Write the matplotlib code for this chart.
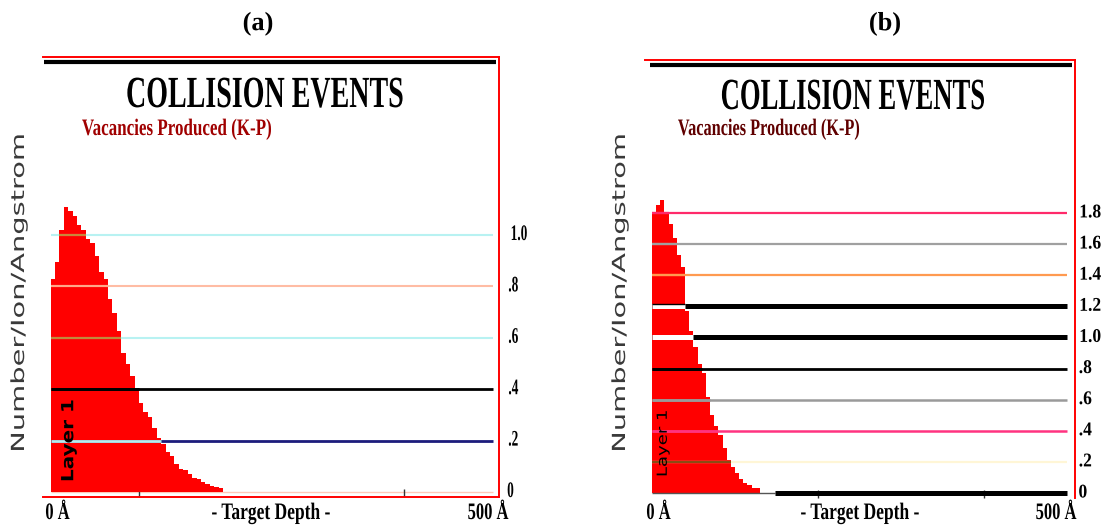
import numpy as np
import matplotlib
matplotlib.use("Agg")
import matplotlib.pyplot as plt
from matplotlib import patheffects
from matplotlib.transforms import Affine2D, blended_transform_factory

W, H = 1102, 526

# depth bins (Angstrom)
bin_width = 5
depth_max = 500

# vacancies / ion / Angstrom, one value per 5 A bin
vac_a = np.array([0.83, 0.895, 1.02, 1.11, 1.095, 1.072, 1.04, 1.02, 0.985, 0.967,
                  0.92, 0.857, 0.83, 0.75, 0.695, 0.625, 0.54, 0.497, 0.45, 0.40,
                  0.345, 0.31, 0.29, 0.25, 0.21, 0.185, 0.155, 0.14, 0.11, 0.09,
                  0.085, 0.07, 0.055, 0.05, 0.04, 0.03, 0.025, 0.02, 0.015])
vac_b = np.array([1.80, 1.85, 1.88, 1.80, 1.73, 1.64, 1.53, 1.45, 1.17, 1.04,
                  0.94, 0.83, 0.77, 0.62, 0.50, 0.43, 0.37, 0.29, 0.21, 0.17,
                  0.13, 0.09, 0.065, 0.054, 0.032, 0.03])

levels_a = [0.2, 0.4, 0.6, 0.8, 1.0]
labels_a = ["0", ".2", ".4", ".6", ".8", "1.0"]
levels_b = [0.2, 0.4, 0.6, 0.8, 1.0, 1.2, 1.4, 1.6, 1.8]
labels_b = ["0", ".2", ".4", ".6", ".8", "1.0", "1.2", "1.4", "1.6", "1.8"]

xticks_a = [100, 400]
xticks_b = [200, 400]

# gridline colours: (outside the fill, inside the fill, width in pt)
grid_a = [("#1c1c7c", "#b8ecec", 2.0),
          ("#000000", "#000000", 2.0),
          ("#b8f2f2", "#c08a3c", 1.5),
          ("#ffbca4", "#ffa888", 1.5),
          ("#b8f2f2", "#c8883a", 1.5)]
grid_b = [("#fff6d6", "#8b4a13", 1.6),
          ("#ff3380", "#ff3380", 1.8),
          ("#9a9a9a", "#9a9a9a", 1.8),
          ("#000000", "#000000", 2.0),
          ("#000000", "#ffffff", 3.6),
          ("#000000", "#ffffff", 3.6),
          ("#ff9a50", "#ff9a50", 1.6),
          ("#a0a0a0", "#a0a0a0", 1.6),
          ("#ff2a6a", "#ff2a6a", 1.6)]

SERIF = "Liberation Serif"


class Squeeze(patheffects.AbstractPathEffect):
    """Scale glyphs along the text direction about the centre of the string."""

    def __init__(self, sx=1.0):
        super().__init__()
        self.sx = sx

    def draw_path(self, renderer, gc, tpath, affine, rgbFace=None):
        ext = tpath.get_extents()
        cx = 0.5 * (ext.x0 + ext.x1)
        pre = Affine2D().translate(-cx, 0).scale(self.sx, 1).translate(cx, 0)
        renderer.draw_path(gc, tpath, pre + affine, rgbFace)


fig = plt.figure(figsize=(W / 100, H / 100), dpi=100)
fig.patch.set_facecolor("white")


def px_axes(x0, y0, x1, y1):
    return fig.add_axes([x0 / W, 1 - y1 / H, (x1 - x0) / W, (y1 - y0) / H])


def ftext(x, y, s, sx=1.0, **kw):
    return fig.text(x / W, 1 - y / H, s, path_effects=[Squeeze(sx)], **kw)


def draw_panel(ax, vac, levels, labels, styles, xlim, ylim, xticks, label_x, label_size, label_sx):
    edges = np.arange(len(vac) + 1) * bin_width
    ax.set_xlim(*xlim)
    ax.set_ylim(*ylim)
    ax.stairs(vac, edges, fill=True, color="#ff0000", lw=0, zorder=2)
    for lev, (c_out, c_in, lw) in zip(levels, styles):
        ax.hlines(lev, 0, depth_max, colors=c_out, lw=lw, zorder=3)
        inside = np.nonzero(vac >= lev)[0]
        if len(inside):
            ax.hlines(lev, edges[inside[0]], edges[inside[-1] + 1], colors=c_in, lw=lw, zorder=4)

    trans = blended_transform_factory(ax.transAxes, ax.transData)
    for lev, lab in zip([0] + levels, labels):
        ax.text(label_x, lev, lab, transform=trans, ha="left", va="center",
                family=SERIF, weight="bold", fontsize=label_size, color="black",
                path_effects=[Squeeze(label_sx)], clip_on=False)

    ax.set_yticks([])
    ax.set_xticks(xticks)
    ax.set_xticklabels([])
    ax.tick_params(axis="x", direction="in", length=6, width=1, color="#333333")
    ax.spines["left"].set_visible(False)
    for side in ("top", "right", "bottom"):
        ax.spines[side].set_color("#ff0000")
        ax.spines[side].set_linewidth(1.4)
    ax.set_facecolor("white")
    return edges


# ---------------- panel (a) ----------------
ax_a = px_axes(43, 57, 499, 497)
draw_panel(ax_a, vac_a, levels_a, labels_a, grid_a,
           xlim=(-8.5, 506.8), ylim=(-5 / 257, 435 / 257), xticks=xticks_a,
           label_x=1.013, label_size=16, label_sx=0.6)
ax_a.hlines(0, 0, depth_max, colors="#ffc8b8", lw=1, zorder=1)
ax_a.plot([0.003, 0.993], [1 - 4.5 / 440, 1 - 4.5 / 440], transform=ax_a.transAxes,
          color="black", lw=3, solid_capstyle="butt", clip_on=False, zorder=5)
ax_a.text(20, 0.2, "Layer 1", rotation=90, ha="center", va="center", weight="bold",
          fontsize=12, color="black", path_effects=[Squeeze(1.2)], zorder=6)

# ---------------- panel (b) ----------------
ax_b = px_axes(645, 60, 1075, 498)
draw_panel(ax_b, vac_b, levels_b, labels_b, grid_b,
           xlim=(-8.4, 509.6), ylim=(-5 / 155.6, 433 / 155.6), xticks=xticks_b,
           label_x=1.007, label_size=14, label_sx=0.9)
ax_b.spines["bottom"].set_visible(False)
# baseline: thin under the profile, heavy beyond it
ax_b.hlines(0, 0, 148, colors="#555555", lw=1, zorder=4)
ax_b.hlines(0, 148, depth_max, colors="black", lw=3.6, zorder=4)
# dark rim along the top of the 1.2 line where it crosses the profile
edges_b = np.arange(len(vac_b) + 1) * bin_width
ax_b.hlines(1.2 + 0.012, 0, edges_b[np.nonzero(vac_b >= 1.2)[0][-1] + 1],
            colors="black", lw=1, zorder=5)
ax_b.plot([0.012, 0.993], [1 - 4.5 / 438, 1 - 4.5 / 438], transform=ax_b.transAxes,
          color="black", lw=3, solid_capstyle="butt", clip_on=False, zorder=5)
ax_b.text(13, 0.32, "Layer 1", rotation=90, ha="center", va="center",
          fontsize=10, color="black", path_effects=[Squeeze(1.3)], zorder=6)

# ---------------- headings and labels ----------------
ftext(258, 24, "(a)", family=SERIF, weight="bold", fontsize=19, ha="center", va="center")
ftext(885, 24, "(b)", family=SERIF, weight="bold", fontsize=19, ha="center", va="center")

for cx, base, sx in [(265, 107, 0.63), (853, 109, 0.6)]:
    ftext(cx, base, "COLLISION EVENTS", sx=sx, family=SERIF, weight="bold",
          fontsize=32, ha="center", va="baseline", color="black")
for cx, base, sx, col in [(177, 135, 0.72, "#a00000"), (769, 135, 0.69, "#600000")]:
    ftext(cx, base, "Vacancies Produced (K-P)", sx=sx, family=SERIF, weight="bold",
          fontsize=17, ha="center", va="baseline", color=col)

for cx in (19, 620):
    ftext(cx, 293, "Number/Ion/Angstrom", sx=1.6, rotation=90, fontsize=13,
          ha="center", va="center", color="#3a3a3a")

for x0, xc, x1 in [(40, 271, 517), (641, 860, 1085)]:
    ftext(x0, 519, "0 Å", sx=0.7, family=SERIF, weight="bold", fontsize=17,
          ha="left", va="baseline")
    ftext(xc, 519, "- Target Depth -", sx=0.74, family=SERIF, weight="bold",
          fontsize=17, ha="center", va="baseline")
    ftext(x1, 519, "500 Å", sx=0.7, family=SERIF, weight="bold", fontsize=17,
          ha="right", va="baseline")

fig.savefig("out.png", dpi=100, facecolor="white")
